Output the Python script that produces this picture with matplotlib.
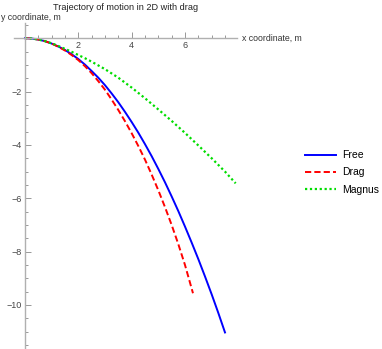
import matplotlib
matplotlib.use("Agg")
import matplotlib.pyplot as plt
from matplotlib.ticker import MultipleLocator, FixedLocator

plt.rcParams["font.family"] = ["Liberation Sans", "DejaVu Sans"]

# values
free_x = [0, 0.25, 0.5, 0.75, 1.0, 1.25, 1.5, 1.75, 2.0, 2.25, 2.5, 2.75, 3.0,
          3.25, 3.5, 3.75, 4.0, 4.25, 4.5, 4.75, 5.0, 5.25, 5.5, 5.75, 6.0,
          6.25, 6.5, 6.75, 7.0, 7.25, 7.5]
free_y = [0, -0.01, -0.05, -0.11, -0.2, -0.31, -0.44, -0.6, -0.78, -0.99, -1.23,
          -1.48, -1.76, -2.07, -2.4, -2.76, -3.14, -3.54, -3.97, -4.42, -4.9,
          -5.4, -5.93, -6.48, -7.06, -7.66, -8.28, -8.93, -9.6, -10.3, -11.03]

drag_x = [0, 0.25, 0.5, 0.75, 1.0, 1.25, 1.5, 1.75, 2.0, 2.25, 2.5, 2.75, 3.0,
          3.25, 3.5, 3.75, 4.0, 4.25, 4.5, 4.75, 5.0, 5.25, 5.5, 5.75, 6.0,
          6.15, 6.3]
drag_y = [0, -0.01, -0.05, -0.11, -0.2, -0.32, -0.46, -0.63, -0.82, -1.05, -1.31,
          -1.61, -1.93, -2.3, -2.69, -3.11, -3.56, -4.04, -4.55, -5.11, -5.7,
          -6.33, -7.0, -7.72, -8.5, -9.03, -9.56]

magnus_x = [0, 0.25, 0.5, 0.75, 1.0, 1.25, 1.5, 1.75, 2.0, 2.25, 2.5, 3.0, 3.5,
            4.0, 4.5, 5.0, 5.5, 6.0, 6.5, 7.0, 7.5, 7.9]
magnus_y = [0, -0.01, -0.05, -0.11, -0.19, -0.29, -0.4, -0.51, -0.63, -0.75, -0.88,
            -1.16, -1.48, -1.85, -2.25, -2.67, -3.1, -3.55, -4.02, -4.5, -5.0,
            -5.44]

x_ticks = [2, 4, 6]
y_ticks = [-10, -8, -6, -4, -2]

W, H = 382, 349
fig = plt.figure(figsize=(W / 100, H / 100), dpi=100)
ax_l, ax_r, ax_t, ax_b = 14, 237, 23, 349
ax = fig.add_axes([ax_l / W, 1 - ax_b / H, (ax_r - ax_l) / W, (ax_b - ax_t) / H])

ax.plot(free_x, free_y, color="#0000ff", lw=1.4, label="Free")
ax.plot(drag_x, drag_y, color="#ff0000", lw=1.4, ls=(0, (3.2, 1.6)), label="Drag")
ax.plot(magnus_x, magnus_y, color="#00dd00", lw=1.6, ls=(0, (1, 1.2)), label="Magnus")

ax.set_xlim(-0.41, 7.95)
ax.set_ylim(-11.65, 0.57)

axis_grey = "#b0b0b0"
for s in ("top", "right"):
    ax.spines[s].set_visible(False)
for s in ("left", "bottom"):
    ax.spines[s].set_position(("data", 0))
    ax.spines[s].set_color(axis_grey)
    ax.spines[s].set_linewidth(1.0)

ax.xaxis.set_major_locator(FixedLocator(x_ticks))
ax.yaxis.set_major_locator(FixedLocator(y_ticks))
ax.xaxis.set_minor_locator(MultipleLocator(0.5))
ax.yaxis.set_minor_locator(MultipleLocator(0.5))
ax.tick_params(which="both", direction="in", color="#888888", width=0.6,
               labelsize=6.5, labelcolor="#444444")
ax.tick_params(which="major", length=4)
ax.tick_params(which="minor", length=2)
ax.tick_params(axis="x", pad=2)
ax.tick_params(axis="y", pad=2)
ax.set_xticklabels([str(v) for v in x_ticks])
ax.set_yticklabels([f"\u2212{abs(v)}" for v in y_ticks])

fig.text(125.5 / W, 1 - 8 / H, "Trajectory of motion in 2D with drag",
         ha="center", va="center", fontsize=6.6, color="#222222")
fig.text(1 / W, 1 - 17 / H, "y coordinate, m", ha="left", va="center",
         fontsize=6.3, color="#333333")
fig.text(242 / W, 1 - 38.5 / H, "x coordinate, m", ha="left", va="center",
         fontsize=6.3, color="#333333")

leg = fig.legend(loc="center left", bbox_to_anchor=(300.5 / W, 1 - 172.5 / H),
                 frameon=False, fontsize=7.5, handlelength=3.0, handletextpad=0.55,
                 labelspacing=0.7, borderaxespad=0)

fig.savefig("out.png", dpi=100)
